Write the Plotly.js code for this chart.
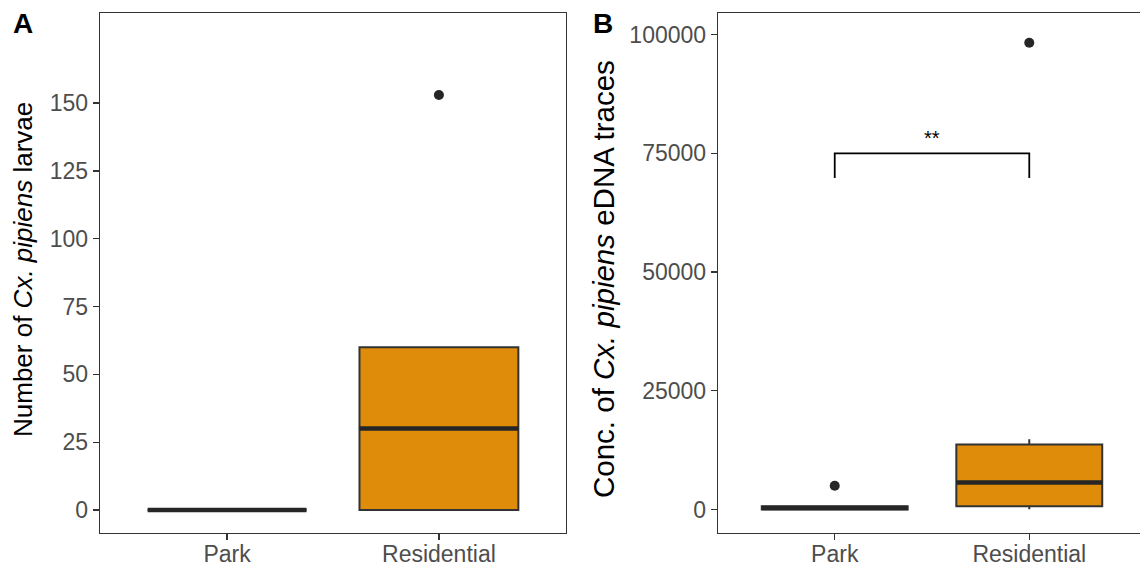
<!DOCTYPE html>
<html>
<head>
<meta charset="utf-8">
<script src="https://cdn.plot.ly/plotly-3.0.1.min.js"></script>
<style>
html, body { margin: 0; padding: 0; overflow: hidden; background: #fff; }
#chart { width: 1150px; height: 569px; }
</style>
</head>
<body>
<div id="chart"></div>
<script>
// ---- Data ----
const categories = ['Park', 'Residential'];
const catPos = [0, 1];

// Panel A: number of Cx. pipiens larvae
const larvaeQ1 = [0, 0];
const larvaeMedian = [0, 30];
const larvaeQ3 = [0, 60];
const larvaeLower = [0, 0];
const larvaeUpper = [0, 60];
const larvaeOutliers = [[], [153]];

// Panel B: concentration of Cx. pipiens eDNA traces
const ednaQ1 = [0, 700];
const ednaMedian = [300, 5700];
const ednaQ3 = [700, 13700];
const ednaLower = [0, 50];
const ednaUpper = [900, 14800];
const ednaOutliers = [[5000], [98300]];

// Significance bracket (panel B)
const sigPair = [0, 1];
const sigLabel = '**';
const sigTop = 75000;
const sigBottom = 69800;
const sigTextY = 78200;

// ---- Styles ----
const BOX_W = 0.75;
const FILL = '#DF8C0A';
const EDGE = '#333333';
const PT = '#262626';
const FONT = 'Liberation Sans, Arial, sans-serif';

function boxTraces(q1, med, q3, lo, hi, outl, xa, ya) {
  const traces = [];
  catPos.forEach((p, i) => {
    traces.push({
      type: 'box', x: [p], q1: [q1[i]], median: [med[i]], q3: [q3[i]],
      lowerfence: [lo[i]], upperfence: [hi[i]],
      width: BOX_W, whiskerwidth: 0, boxpoints: false,
      fillcolor: FILL, line: {color: EDGE, width: 2},
      xaxis: xa, yaxis: ya, hoverinfo: 'skip', showlegend: false
    });
  });
  // thick median lines
  const mx = [], my = [];
  catPos.forEach((p, i) => {
    mx.push(p - BOX_W / 2, p + BOX_W / 2, null);
    my.push(med[i], med[i], null);
  });
  traces.push({type: 'scatter', mode: 'lines', x: mx, y: my,
    line: {color: '#262626', width: 4.5}, xaxis: xa, yaxis: ya,
    hoverinfo: 'skip', showlegend: false});
  // outliers
  const ox = [], oy = [];
  catPos.forEach((p, i) => outl[i].forEach(v => { ox.push(p); oy.push(v); }));
  traces.push({type: 'scatter', mode: 'markers', x: ox, y: oy,
    marker: {color: PT, size: 10}, xaxis: xa, yaxis: ya,
    hoverinfo: 'skip', showlegend: false});
  return traces;
}

const data = [].concat(
  boxTraces(larvaeQ1, larvaeMedian, larvaeQ3, larvaeLower, larvaeUpper, larvaeOutliers, 'x', 'y'),
  boxTraces(ednaQ1, ednaMedian, ednaQ3, ednaLower, ednaUpper, ednaOutliers, 'x2', 'y2'),
  [{
    type: 'scatter', mode: 'lines',
    x: [sigPair[0], sigPair[0], sigPair[1], sigPair[1]],
    y: [sigBottom, sigTop, sigTop, sigBottom],
    line: {color: '#000', width: 1.8}, xaxis: 'x2', yaxis: 'y2',
    hoverinfo: 'skip', showlegend: false
  }]
);

const W = 1150, H = 569;
const yDom = [(H - 532.7) / H, (H - 13) / H];

const axisCommon = {
  showgrid: false, zeroline: false, showline: true, mirror: true,
  linecolor: EDGE, linewidth: 1.3, ticks: 'outside', ticklen: 6,
  tickcolor: EDGE, tickwidth: 1.3,
  tickfont: {family: FONT, size: 23, color: '#4D4D4D'}, fixedrange: true
};

const layout = {
  width: W, height: H,
  margin: {l: 0, r: 0, t: 0, b: 0},
  paper_bgcolor: '#fff', plot_bgcolor: '#fff',
  showlegend: false,
  xaxis: Object.assign({}, axisCommon, {
    domain: [100 / W, 566 / W], range: [-0.6, 1.6],
    tickvals: catPos, ticktext: categories, anchor: 'y', ticklabelstandoff: -6
  }),
  yaxis: Object.assign({}, axisCommon, {
    domain: yDom, range: [-8.37, 183.2],
    tickvals: [0, 25, 50, 75, 100, 125, 150], anchor: 'x'
  }),
  xaxis2: Object.assign({}, axisCommon, {
    domain: [718 / W, 1146 / W], range: [-0.6, 1.6],
    tickvals: catPos, ticktext: categories, anchor: 'y2', ticklabelstandoff: -6
  }),
  yaxis2: Object.assign({}, axisCommon, {
    domain: yDom, range: [-4886, 104570],
    tickvals: [0, 25000, 50000, 75000, 100000], tickformat: 'd', anchor: 'x2'
  }),
  annotations: [
    {text: 'A', xref: 'paper', yref: 'paper', x: 23 / W, y: (H - 23) / H,
     xanchor: 'center', yanchor: 'middle', showarrow: false,
     font: {family: FONT, size: 28, color: '#000', weight: 'bold'}},
    {text: 'B', xref: 'paper', yref: 'paper', x: 603 / W, y: (H - 23) / H,
     xanchor: 'center', yanchor: 'middle', showarrow: false,
     font: {family: FONT, size: 28, color: '#000', weight: 'bold'}},
    {text: 'Number of <i>Cx. pipiens</i> larvae', xref: 'paper', yref: 'paper',
     x: 23 / W, y: (H - 270) / H, xanchor: 'center', yanchor: 'middle',
     textangle: -90, showarrow: false,
     font: {family: FONT, size: 26, color: '#000'}},
    {text: 'Conc. of <i>Cx. pipiens</i> eDNA traces', xref: 'paper', yref: 'paper',
     x: 603 / W, y: (H - 279) / H, xanchor: 'center', yanchor: 'middle',
     textangle: -90, showarrow: false,
     font: {family: FONT, size: 29.5, color: '#000'}},
    {text: sigLabel, xref: 'x2', yref: 'y2', x: (sigPair[0] + sigPair[1]) / 2, y: sigTextY,
     xanchor: 'center', yanchor: 'middle', showarrow: false,
     font: {family: FONT, size: 20, color: '#000'}}
  ]
};

Plotly.newPlot('chart', data, layout, {staticPlot: true, displayModeBar: false});
</script>
</body>
</html>
